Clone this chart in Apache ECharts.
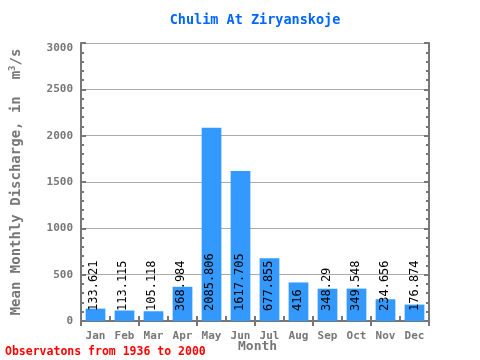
<!DOCTYPE html>
<html><head><meta charset="utf-8">
<script src="https://cdn.jsdelivr.net/npm/echarts@6/dist/echarts.min.js"></script>
<style>html,body{margin:0;padding:0;background:#fff}
#wrap{position:relative;width:480px;height:360px}
#c,#lab{position:absolute;left:0;top:0;width:480px;height:360px}
#lab{pointer-events:none}</style>
</head><body><div id="wrap"><div id="c"></div><div id="lab"></div></div>
<script>
const months = ['Jan','Feb','Mar','Apr','May','Jun','Jul','Aug','Sep','Oct','Nov','Dec'];
const discharge = [133.621,113.115,105.118,368.984,2085.806,1617.705,677.855,416,348.29,349.548,234.656,176.874];
const yTicks = [0,500,1000,1500,2000,2500,3000];
const titleText = 'Chulim At Ziryanskoje';
const footText = 'Observatons from 1936 to 2000';

const FONT = 'DejaVu Sans Mono';
const AX = '#777';
const GRID = {left:79, right:51, top:43, bottom:39};
function xAx(pos, extra){
  return Object.assign({
    type:'category', data: months.slice(), position:pos,
    axisLine:{show:true, lineStyle:{color:AX, width:2}},
    axisTick:{show:true, inside:true, length:5, lineStyle:{color:AX, width:2}},
    splitLine:{show:false}
  }, extra);
}
function yAx(pos, extra){
  return Object.assign({
    type:'value', min:yTicks[0], max:yTicks[yTicks.length-1], interval:500, position:pos,
    axisLine:{show:true, lineStyle:{color:AX, width:2}},
    axisTick:{show:true, inside:true, length:5, lineStyle:{color:AX, width:2}},
    minorTick:{show:true, splitNumber:5, length:3, lineStyle:{color:AX, width:2}}
  }, extra);
}
// main chart: axes, bars, texts
const chart = echarts.init(document.getElementById('c'));
chart.setOption({
  animation:false,
  title:{text:titleText, left:250, textAlign:'center', top:8,
    textStyle:{color:'#0066ff', fontFamily:FONT, fontSize:13.5, fontWeight:'bold'}},
  graphic:[
    {type:'text', left:5, top:346, style:{text:footText, fill:'#ff0000', font:'bold 11.5px "DejaVu Sans Mono"'}},
    {type:'text', left:238, top:340, style:{text:'Month', fill:AX, font:'bold 13px "DejaVu Sans Mono"'}}
  ],
  grid:GRID,
  xAxis:[
    xAx('bottom', {axisLabel:{color:AX, fontFamily:FONT, fontSize:11, fontWeight:'bold', margin:10}}),
    xAx('top', {axisLabel:{show:false}})
  ],
  yAxis:[
    yAx('left', {
      splitLine:{show:true, lineStyle:{color:'#aaa', width:1}},
      axisLabel:{color:AX, fontFamily:FONT, fontSize:11, fontWeight:'bold', margin:8,
        formatter:v=>String(v), verticalAlignMaxLabel:'top'},
      name:'Mean Monthly Discharge, in  m{sup|3}/s', nameLocation:'middle', nameGap:56,
      nameTextStyle:{color:AX, fontFamily:FONT, fontSize:14, fontWeight:'bold',
        rich:{sup:{fontSize:9, fontFamily:FONT, fontWeight:'bold', color:AX, verticalAlign:'bottom', padding:[0,0,8,0]}}}}),
    yAx('right', {splitLine:{show:false}, axisLabel:{show:false}})
  ],
  series:[{type:'bar', barWidth:'68%', itemStyle:{color:'#3399ff'}, data:discharge}]
});
// overlay chart: same scales, only the rotated value labels
const lab = echarts.init(document.getElementById('lab'));
lab.setOption({
  animation:false,
  grid:GRID,
  xAxis:{type:'category', data:months.slice(), show:false},
  yAxis:{type:'value', min:yTicks[0], max:yTicks[yTicks.length-1], show:false},
  series:[{
    type:'bar', barWidth:'68%', itemStyle:{color:'rgba(0,0,0,0)'},
    data: discharge.map(v=>({value:v, label:{rotate:90}})),
    label:{show:true, position:'insideBottom', rotate:90, align:'left', verticalAlign:'middle',
      distance:10, color:'#000', fontFamily:FONT, fontSize:12, formatter:p=>String(p.value)}
  }]
});
</script></body></html>
